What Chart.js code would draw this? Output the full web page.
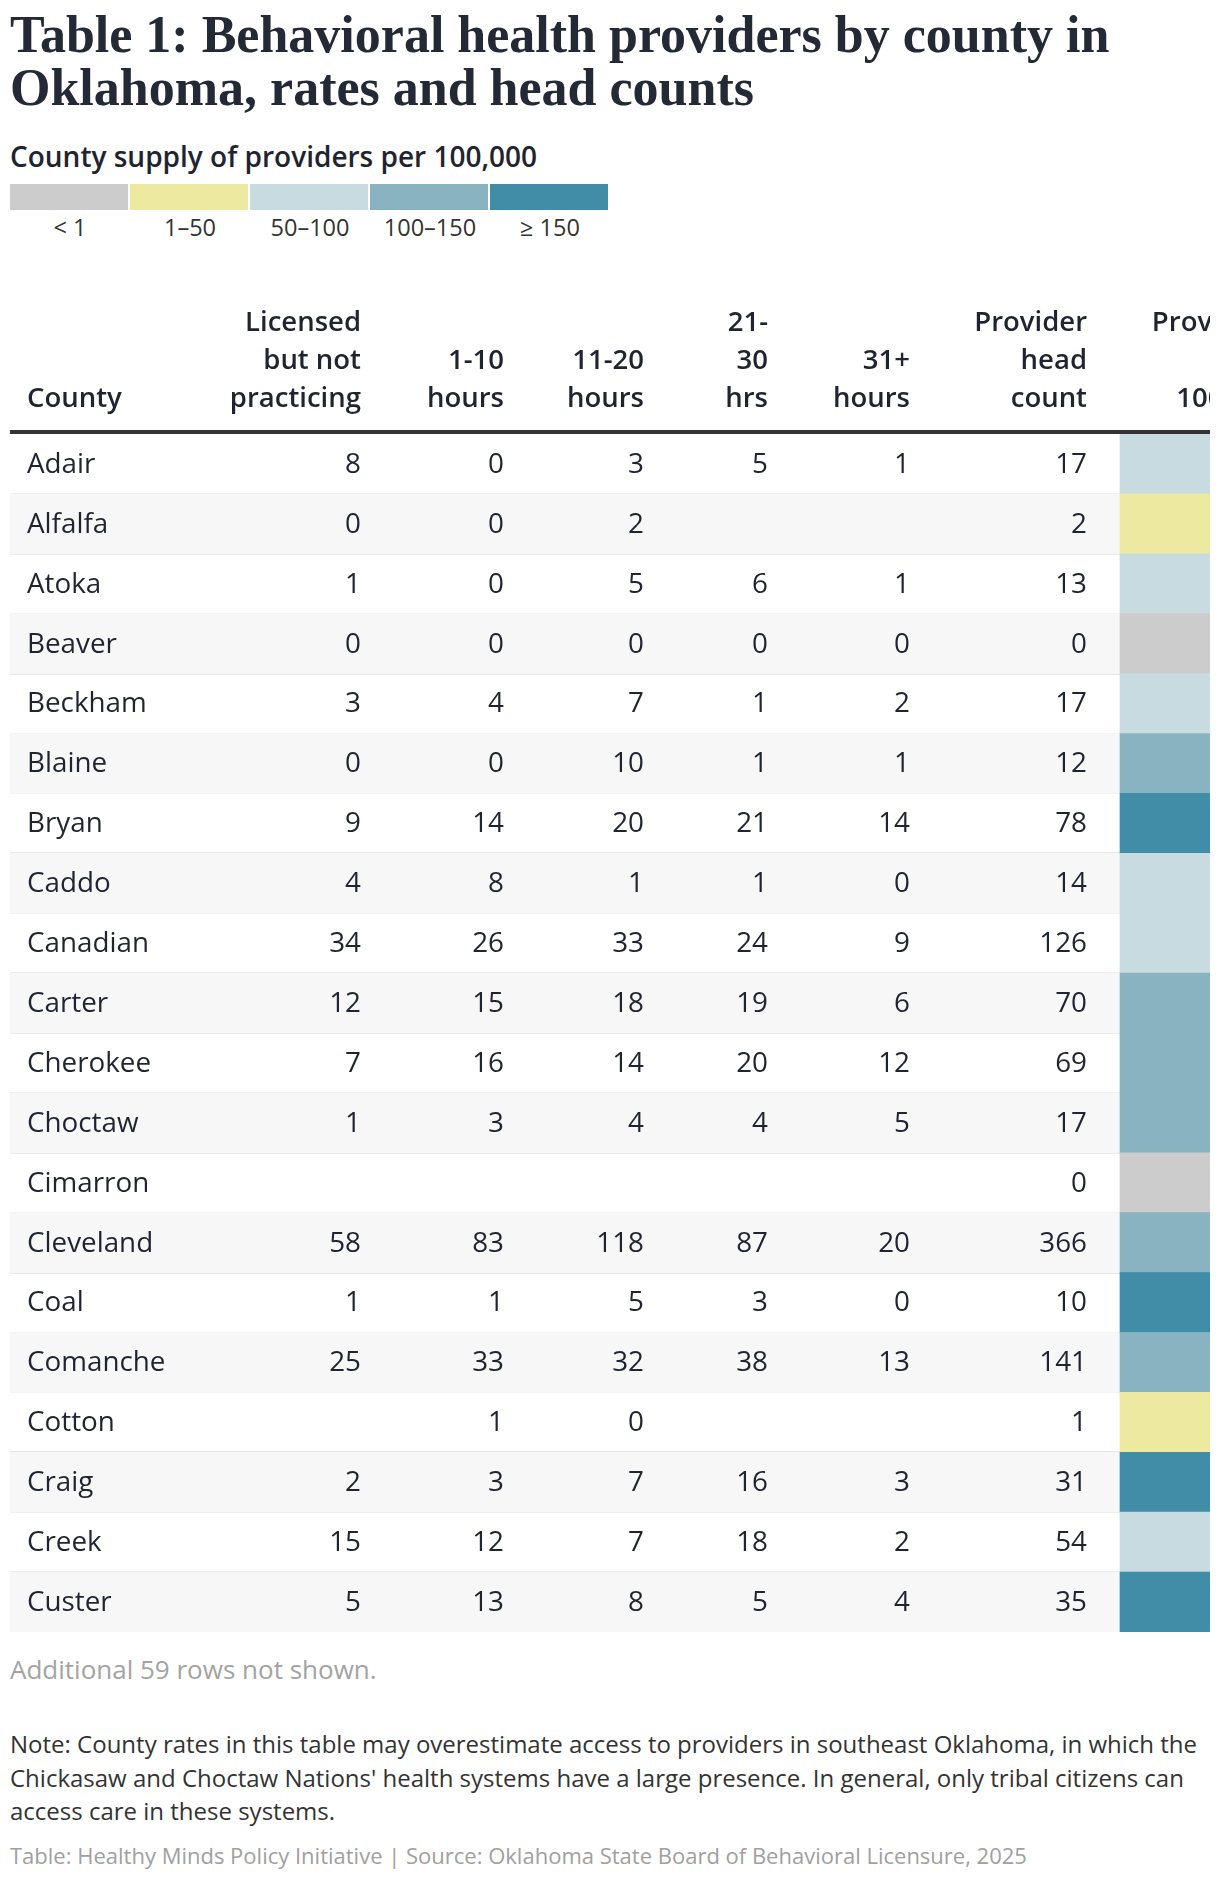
<!DOCTYPE html>
<html>
<head>
<meta charset="utf-8">
<script src="https://cdn.jsdelivr.net/npm/chart.js@4.4.1/dist/chart.umd.min.js"></script>
<style>
  body { margin: 0; background: #fff; width: 1220px; height: 1882px; position: relative; overflow: hidden; font-family: "Open Sans", sans-serif; color: #1f2430; }
  .abs { position: absolute; left: 10px; margin: 0; white-space: nowrap; }
  #title { top: 8px; font-family: "Liberation Serif", serif; font-weight: 700; line-height: 53px; color: #232a36; }
  #legendTitle { top: 141px; font-size: 28px; font-weight: 600; line-height: 30px; }
  #legendBar { top: 184px; display: flex; }
  #legendBar div { width: 118px; height: 26px; margin-right: 2px; }
  #legendLabels { top: 213px; display: flex; font-size: 23.5px; line-height: 28px; color: #333; }
  #legendLabels div { width: 120px; text-align: center; }
  #chartBox { position: absolute; left: 0; top: 290px; width: 1220px; height: 1350px; }
  #more { top: 1654px; font-size: 26px; line-height: 31px; color: #a3a3a3; }
  #note { top: 1727px; font-size: 24px; line-height: 33.5px; color: #333; }
  #source { top: 1841px; font-size: 22px; line-height: 28px; color: #a0a0a0; }
</style>
</head>
<body>
<h1 id="title" class="abs">Table 1: Behavioral health providers by county in<br>Oklahoma, rates and head counts</h1>
<div id="legendTitle" class="abs">County supply of providers per 100,000</div>
<div id="legendBar" class="abs"></div>
<div id="legendLabels" class="abs"></div>
<div id="chartBox"><canvas id="tableChart" width="1220" height="1350"></canvas></div>
<div id="more" class="abs">Additional 59 rows not shown.</div>
<div id="note" class="abs">Note: County rates in this table may overestimate access to providers in southeast Oklahoma, in which the<br>Chickasaw and Choctaw Nations' health systems have a large presence. In general, only tribal citizens can<br>access care in these systems.</div>
<div id="source" class="abs">Table: Healthy Minds Policy Initiative | Source: Oklahoma State Board of Behavioral Licensure, 2025</div>

<script>
const counties = ["Adair", "Alfalfa", "Atoka", "Beaver", "Beckham", "Blaine", "Bryan", "Caddo", "Canadian", "Carter",
  "Cherokee", "Choctaw", "Cimarron", "Cleveland", "Coal", "Comanche", "Cotton", "Craig", "Creek", "Custer"];
const licensedNotPracticing = [8, 0, 1, 0, 3, 0, 9, 4, 34, 12, 7, 1, null, 58, 1, 25, null, 2, 15, 5];
const hours1to10 = [0, 0, 0, 0, 4, 0, 14, 8, 26, 15, 16, 3, null, 83, 1, 33, 1, 3, 12, 13];
const hours11to20 = [3, 2, 5, 0, 7, 10, 20, 1, 33, 18, 14, 4, null, 118, 5, 32, 0, 7, 7, 8];
const hours21to30 = [5, null, 6, 0, 1, 1, 21, 1, 24, 19, 20, 4, null, 87, 3, 38, null, 16, 18, 5];
const hours31plus = [1, null, 1, 0, 2, 1, 14, 0, 9, 6, 12, 5, null, 20, 0, 13, null, 3, 2, 4];
const headCount = [17, 2, 13, 0, 17, 12, 78, 14, 126, 70, 69, 17, 0, 366, 10, 141, 1, 31, 54, 35];
// rate bucket per county: 0 "< 1", 1 "1–50", 2 "50–100", 3 "100–150", 4 "≥ 150"
const rateBin = [2, 1, 2, 0, 2, 3, 4, 2, 2, 3, 3, 3, 0, 3, 4, 3, 1, 4, 2, 4];
const binLabels = ["< 1", "1–50", "50–100", "100–150", "≥ 150"];
const binColors = ["#cccccc", "#eee9a0", "#c7dbe0", "#8ab3c2", "#418ca7"];

// title sized to fill its width
const titleEl = document.getElementById("title");
const mctx = document.createElement("canvas").getContext("2d");
mctx.font = "700 50px 'Liberation Serif'";
const tw = mctx.measureText("Table 1: Behavioral health providers by county in").width;
titleEl.style.fontSize = Math.min(50 * 1112 / tw, 52).toFixed(1) + "px";

// legend
binColors.forEach((c, i) => {
  const sw = document.createElement("div");
  sw.style.background = c;
  document.getElementById("legendBar").appendChild(sw);
  const lb = document.createElement("div");
  lb.textContent = binLabels[i];
  document.getElementById("legendLabels").appendChild(lb);
});

// columns, x positions in scale units (0..1200 across the table)
const columns = [
  { lines: ["County"], align: "left", at: 17 },
  { lines: ["Licensed", "but not", "practicing"], align: "right", at: 351, values: licensedNotPracticing },
  { lines: ["1-10", "hours"], align: "right", at: 494, values: hours1to10 },
  { lines: ["11-20", "hours"], align: "right", at: 634, values: hours11to20 },
  { lines: ["21-", "30", "hrs"], align: "right", at: 758, values: hours21to30 },
  { lines: ["31+", "hours"], align: "right", at: 900, values: hours31plus },
  { lines: ["Provider", "head", "count"], align: "right", at: 1077, values: headCount },
  { lines: ["Providers", "per", "100,000"], align: "right", at: 1268 }
];

const tableText = {
  id: "tableText",
  afterDraw(chart) {
    const { ctx, chartArea, scales: { x, y } } = chart;
    ctx.save();
    ctx.beginPath();
    ctx.rect(chartArea.left, 0, chartArea.right - chartArea.left, chart.height);
    ctx.clip();

    // header
    ctx.fillStyle = "#1f2430";
    ctx.font = "600 27.5px 'Open Sans'";
    ctx.textBaseline = "alphabetic";
    columns.forEach(col => {
      ctx.textAlign = col.align;
      col.lines.forEach((ln, k) => {
        const by = chartArea.top - 27 - (col.lines.length - 1 - k) * 38;
        ctx.fillText(ln, x.getPixelForValue(col.at), by);
      });
    });
    ctx.fillStyle = "#333333";
    ctx.fillRect(chartArea.left, chartArea.top - 4, chartArea.right - chartArea.left, 4);

    // body
    ctx.fillStyle = "#1f2430";
    ctx.font = "27.8px 'Open Sans'";
    ctx.textBaseline = "middle";
    counties.forEach((name, i) => {
      const py = y.getPixelForValue(i) + 1;
      ctx.textAlign = "left";
      ctx.fillText(name, x.getPixelForValue(columns[0].at), py);
      ctx.textAlign = "right";
      columns.forEach(col => {
        if (!col.values || col.values[i] === null) return;
        ctx.fillText(String(col.values[i]), x.getPixelForValue(col.at), py);
      });
    });
    ctx.restore();
  }
};

new Chart(document.getElementById("tableChart"), {
  type: "bar",
  data: {
    labels: counties,
    datasets: [{
      label: "Providers per 100,000",
      data: counties.map(() => [1110, 1200]),
      backgroundColor: rateBin.map(b => binColors[b]),
      order: 0
    }, {
      label: "stripe",
      data: counties.map((c, i) => (i % 2 === 1 ? [0, 1200] : null)),
      backgroundColor: "#f7f7f7",
      order: 1
    }]
  },
  options: {
    indexAxis: "y",
    responsive: false,
    animation: false,
    events: [],
    layout: { padding: { top: 144, left: 10, right: 10, bottom: 8 } },
    datasets: { bar: { barPercentage: 1, categoryPercentage: 1, grouped: false, borderWidth: 0, borderSkipped: false } },
    plugins: { legend: { display: false }, tooltip: { enabled: false } },
    scales: {
      x: { type: "linear", min: 0, max: 1200, display: false },
      y: {
        type: "category",
        z: 1,
        grid: { offset: true, drawTicks: false, lineWidth: 2, color: ctx => (ctx.index > 0 ? "rgba(0,0,0,0.09)" : "transparent") },
        border: { display: false },
        ticks: { display: false },
        afterFit: s => { s.width = 0; }
      }
    }
  },
  plugins: [tableText]
});
</script>
</body>
</html>
